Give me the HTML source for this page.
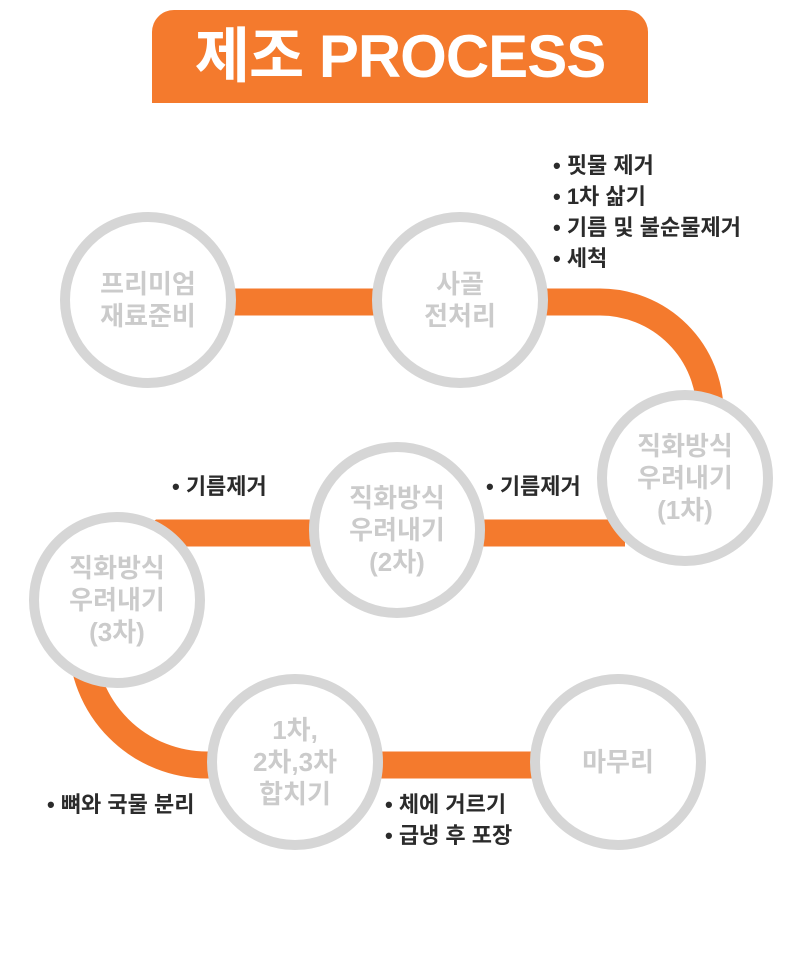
<!DOCTYPE html>
<html><head><meta charset="utf-8"><style>
html,body{margin:0;padding:0;background:#fff;}
body{width:800px;height:967px;position:relative;overflow:hidden;font-family:"Liberation Sans","Noto Sans CJK KR",sans-serif;}
.title{position:absolute;left:152px;top:10px;width:496px;height:93px;background:#f47a2d;border-radius:22px 22px 0 0;color:#fff;font-weight:bold;font-size:60px;text-align:center;line-height:93px;letter-spacing:-1px;}
.c{position:absolute;width:156px;height:156px;border:10px solid #d6d6d6;border-radius:50%;background:#fff;display:flex;align-items:center;justify-content:center;text-align:center;color:#cbcbcb;font-weight:bold;font-size:26px;line-height:32px;}
.l{position:absolute;color:#2b2b2b;font-weight:bold;font-size:22px;line-height:31px;white-space:nowrap;}
</style></head><body>
<div class="title">제조 PROCESS</div>
<svg width="800" height="967" style="position:absolute;left:0;top:0">
<g fill="none" stroke="#f47a2d" stroke-width="27">
<path d="M148 302 H600 A110 110 0 0 1 710 412"/>
<path d="M625 533 H160 L117 560"/>
<path d="M82 640 A125 125 0 0 0 207 765 H618"/>
</g>
</svg>
<div class="c" style="left:60px;top:212px">프리미엄<br>재료준비</div>
<div class="c" style="left:372px;top:212px">사골<br>전처리</div>
<div class="c" style="left:597px;top:390px">직화방식<br>우려내기<br>(1차)</div>
<div class="c" style="left:309px;top:442px">직화방식<br>우려내기<br>(2차)</div>
<div class="c" style="left:29px;top:512px">직화방식<br>우려내기<br>(3차)</div>
<div class="c" style="left:207px;top:674px">1차,<br>2차,3차<br>합치기</div>
<div class="c" style="left:530px;top:674px">마무리</div>
<div class="l" style="left:553px;top:150px">• 핏물 제거<br>• 1차 삶기<br>• 기름 및 불순물제거<br>• 세척</div>
<div class="l" style="left:172px;top:471px">• 기름제거</div>
<div class="l" style="left:486px;top:471px">• 기름제거</div>
<div class="l" style="left:47px;top:789px">• 뼈와 국물 분리</div>
<div class="l" style="left:385px;top:789px">• 체에 거르기<br>• 급냉 후 포장</div>
</body></html>
